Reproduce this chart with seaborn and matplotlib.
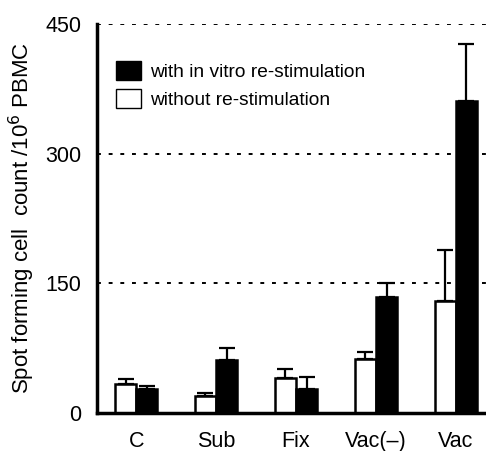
import pandas as pd
import seaborn as sns
import matplotlib.pyplot as plt
from matplotlib.patches import Patch

# Values
groups = ["C", "Sub", "Fix", "Vac(\u2013)", "Vac"]
without_restim = [33, 20, 41, 63, 129]
without_err = [6, 3, 10, 8, 59]
with_restim = [28, 61, 28, 134, 361]
with_err = [3, 14, 14, 16, 66]
yticks = [0, 150, 300, 450]

sns.set_style("white")
plt.rcParams["font.family"] = ["Liberation Sans", "DejaVu Sans"]
plt.rcParams.update({"text.color": "black", "axes.labelcolor": "black",
                     "xtick.color": "black", "ytick.color": "black",
                     "axes.edgecolor": "black"})

df = pd.DataFrame({
    "group": groups * 2,
    "cond": ["without"] * len(groups) + ["with"] * len(groups),
    "value": without_restim + with_restim,
})

fig = plt.figure(figsize=(4.86, 4.51), dpi=100)
ax = fig.add_axes([0.1996, 0.0843, 0.8, 0.8625])

sns.barplot(data=df, x="group", y="value", hue="cond", order=groups,
            hue_order=["without", "with"], palette={"without": "white", "with": "black"},
            edgecolor="black", linewidth=1.8, width=0.53, errorbar=None,
            legend=False, ax=ax)

# upper-only error bars placed on the seaborn bars
bars = ax.patches[:2 * len(groups)]
errs = without_err + with_err
vals = without_restim + with_restim
xs = [b.get_x() + b.get_width() / 2 for b in bars]
ax.errorbar(xs, vals, yerr=[[0] * len(errs), errs], fmt="none", ecolor="black",
            elinewidth=1.6, capsize=5.5, capthick=1.6, zorder=1)

ax.set_ylim(0, 450)
ax.set_xlim(-0.49, 4.375)
ax.set_yticks(yticks)
for y in yticks[1:]:
    ax.axhline(y, color="black", linestyle=(0, (2, 4)), linewidth=1.4, zorder=0)

ax.set_xlabel("")
ax.set_ylabel("Spot forming cell  count /10$^6$ PBMC", fontsize=16, labelpad=6)
ax.tick_params(axis="y", length=0, pad=11, labelsize=15.5)
ax.tick_params(axis="x", length=0, pad=13, labelsize=15.5)
ax.set_xticks([0.5, 1.5, 2.5, 3.5], minor=True)
ax.tick_params(axis="x", which="minor", direction="in", length=4, width=3)

sns.despine(ax=ax, top=True, right=True)
ax.spines["left"].set_linewidth(2.5)
ax.spines["bottom"].set_linewidth(2.5)

handles = [Patch(facecolor="black", edgecolor="black"),
           Patch(facecolor="white", edgecolor="black")]
ax.legend(handles, ["with in vitro re-stimulation", "without re-stimulation"],
          loc="upper left", bbox_to_anchor=(0.03, 0.925), frameon=False,
          fontsize=13.8, handlelength=1.3, handleheight=1.15, handletextpad=0.45,
          labelspacing=0.4, borderaxespad=0)

fig.savefig("out.png", dpi=100)
